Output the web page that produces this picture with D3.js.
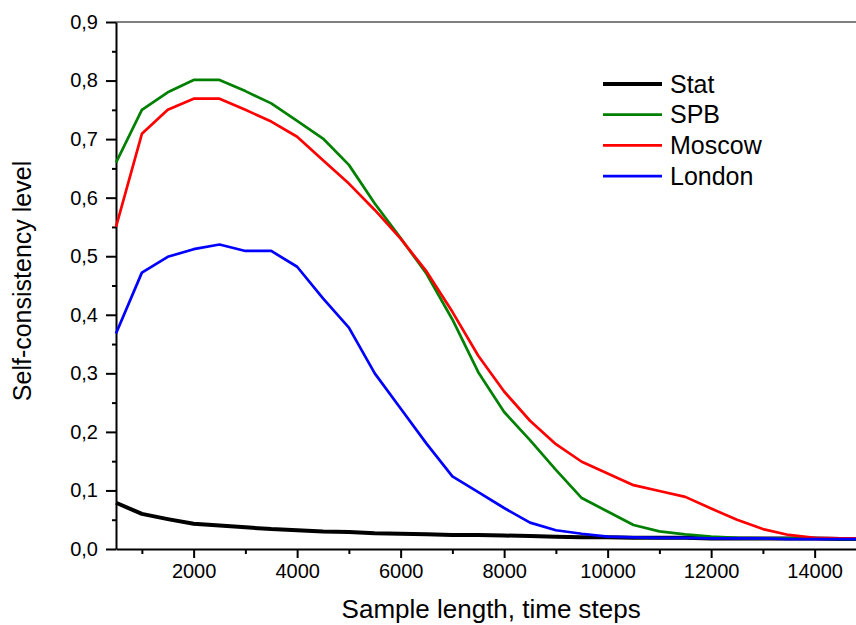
<!DOCTYPE html>
<html>
<head>
<meta charset="utf-8">
<script src="https://cdn.jsdelivr.net/npm/d3@7"></script>
<style>
    body { margin: 0; background: #fff; }
    svg { display: block; font-family: "Liberation Sans", Arial, sans-serif; }
</style>
</head>
<body>
<svg id="chart"></svg>
<script>
// sample lengths (time steps)
const sampleLength = [500, 1000, 1500, 2000, 2500, 3000, 3500, 4000, 4500, 5000,
    5500, 6000, 6500, 7000, 7500, 8000, 8500, 9000, 9500, 10000,
    10500, 11000, 11500, 12000, 12500, 13000, 13500, 14000, 14500, 15000];

const statValues = [0.079, 0.060, 0.051, 0.043, 0.040, 0.037, 0.034, 0.032, 0.030, 0.029,
    0.027, 0.026, 0.025, 0.024, 0.024, 0.023, 0.022, 0.021, 0.020, 0.020,
    0.019, 0.019, 0.019, 0.018, 0.018, 0.018, 0.018, 0.018, 0.017, 0.017];
const spbValues = [0.660, 0.750, 0.780, 0.801, 0.801, 0.782, 0.761, 0.731, 0.701, 0.656,
    0.590, 0.531, 0.470, 0.392, 0.302, 0.234, 0.186, 0.135, 0.087, 0.064,
    0.041, 0.030, 0.025, 0.021, 0.019, 0.018, 0.018, 0.018, 0.017, 0.017];
const moscowValues = [0.550, 0.709, 0.750, 0.769, 0.769, 0.750, 0.730, 0.704, 0.664, 0.624,
    0.579, 0.530, 0.474, 0.405, 0.330, 0.269, 0.219, 0.179, 0.149, 0.129,
    0.109, 0.099, 0.089, 0.069, 0.050, 0.034, 0.024, 0.019, 0.018, 0.018];
const londonValues = [0.368, 0.472, 0.499, 0.512, 0.520, 0.509, 0.509, 0.482, 0.428, 0.378,
    0.300, 0.240, 0.180, 0.124, 0.097, 0.070, 0.045, 0.032, 0.026, 0.021,
    0.020, 0.019, 0.019, 0.018, 0.018, 0.018, 0.017, 0.017, 0.017, 0.017];

const seriesNames = ["Stat", "SPB", "Moscow", "London"];
const seriesColors = ["#000000", "#008000", "#ff0000", "#0000ff"];
const seriesWidths = [4, 2.7, 2.7, 2.7];
const seriesValues = [statValues, spbValues, moscowValues, londonValues];

const xMajorTicks = [2000, 4000, 6000, 8000, 10000, 12000, 14000];
const xMinorTicks = [1000, 3000, 5000, 7000, 9000, 11000, 13000];
const yMajorTicks = [0, 0.1, 0.2, 0.3, 0.4, 0.5, 0.6, 0.7, 0.8, 0.9];
const yMinorTicks = [0.05, 0.15, 0.25, 0.35, 0.45, 0.55, 0.65, 0.75, 0.85];

DrawChart();

function DrawChart() {
    // svg size and plot area
    const svgWidth = 856;
    const svgHeight = 625;
    const margin = { top: 22, left: 116 };
    const width = 750.4;
    const height = 527;

    const svg = d3.select("#chart")
        .attr("width", svgWidth)
        .attr("height", svgHeight);

    const g = svg.append("g")
        .attr("transform", `translate(${margin.left}, ${margin.top})`);

    // scales
    const xScale = d3.scaleLinear().domain([500, 15000]).range([0, width]);
    const yScale = d3.scaleLinear().domain([0, 0.9]).range([height, 0]);

    const commaFormat = d => d3.format(".1f")(d).replace(".", ",");

    // top frame line
    g.append("line")
        .attr("x1", 0).attr("x2", width)
        .attr("y1", 0).attr("y2", 0)
        .attr("stroke", "#000")
        .attr("stroke-width", 1);

    // minor ticks first, then the main axes over them
    g.append("g")
        .attr("transform", `translate(0, ${height})`)
        .call(d3.axisBottom(xScale).tickValues(xMinorTicks).tickSize(5).tickSizeOuter(0).tickFormat(""))
        .call(a => a.select(".domain").remove())
        .call(a => a.selectAll(".tick line").attr("stroke-width", 2));

    g.append("g")
        .call(d3.axisLeft(yScale).tickValues(yMinorTicks).tickSize(4).tickSizeOuter(0).tickFormat(""))
        .call(a => a.select(".domain").remove())
        .call(a => a.selectAll(".tick line").attr("stroke-width", 2));

    g.append("g")
        .attr("class", "x axis")
        .attr("transform", `translate(0, ${height})`)
        .call(d3.axisBottom(xScale).tickValues(xMajorTicks).tickSize(9).tickSizeOuter(0).tickPadding(6).tickFormat(d3.format("d")))
        .call(a => a.select(".domain").attr("stroke-width", 2))
        .call(a => a.selectAll(".tick line").attr("stroke-width", 2));

    g.append("g")
        .attr("class", "y axis")
        .call(d3.axisLeft(yScale).tickValues(yMajorTicks).tickSize(10).tickSizeOuter(0).tickPadding(8).tickFormat(commaFormat))
        .call(a => a.select(".domain").attr("stroke-width", 2))
        .call(a => a.selectAll(".tick line").attr("stroke-width", 2));

    svg.selectAll(".axis text")
        .attr("font-family", "Liberation Sans, Arial, sans-serif")
        .attr("font-size", "20px")
        .attr("fill", "#000");

    // draw the lines
    const line = d3.line()
        .x((d, i) => xScale(sampleLength[i]))
        .y(d => yScale(d));

    seriesValues.forEach((values, k) => {
        g.append("path")
            .datum(values)
            .attr("fill", "none")
            .attr("stroke", seriesColors[k])
            .attr("stroke-width", seriesWidths[k])
            .attr("stroke-linejoin", "round")
            .attr("d", line);
    });

    // legend
    const legend = svg.append("g").attr("transform", "translate(603, 84)");
    seriesNames.forEach((name, k) => {
        const row = legend.append("g").attr("transform", `translate(0, ${k * 30.7})`);
        row.append("line")
            .attr("x1", 0).attr("x2", 59)
            .attr("stroke", seriesColors[k])
            .attr("stroke-width", seriesWidths[k]);
        row.append("text")
            .attr("x", 67)
            .attr("dy", "0.35em")
            .attr("font-size", "25px")
            .text(name);
    });

    // axis titles
    svg.append("text")
        .attr("x", margin.left + width / 2)
        .attr("y", 618)
        .attr("text-anchor", "middle")
        .attr("font-size", "26px")
        .text("Sample length, time steps");

    svg.append("text")
        .attr("transform", `translate(31, 281) rotate(-90)`)
        .attr("text-anchor", "middle")
        .attr("font-size", "25px")
        .text("Self-consistency level");
}
</script>
</body>
</html>
